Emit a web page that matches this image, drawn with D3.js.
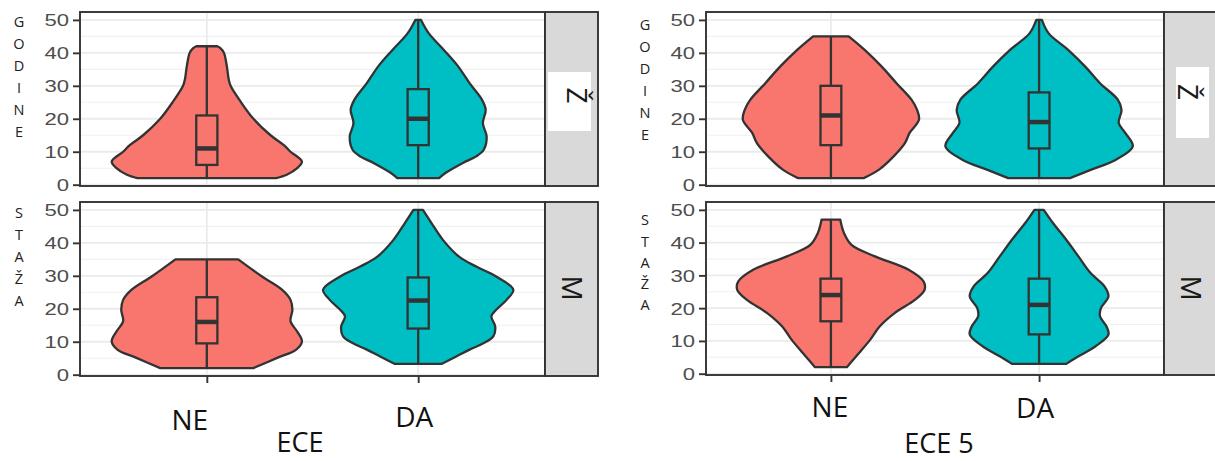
<!DOCTYPE html>
<html>
<head>
<meta charset="utf-8">
<script src="https://cdn.jsdelivr.net/npm/d3@7"></script>
<style>
  html, body { margin: 0; padding: 0; background: #ffffff; }
  svg { display: block; }
</style>
</head>
<body>
<svg id="chart" width="1215" height="461"></svg>
<script>
// ---- categories, facets, ticks ----
const categories = ["NE", "DA"];
const facets = ["Ž", "M"];
const yTicks = [0, 10, 20, 30, 40, 50];
const yMinor = [5, 15, 25, 35, 45];
const yTitleTop = ["G", "O", "D", "I", "N", "E"];
const yTitleBottom = ["S", "T", "A", "Ž", "A"];

// ---- violin densities: [value, relative half-width] ----
// ECE, facet Ž
const eceZ_NE_density = [[2,.73],[3,.84],[5,.95],[7,1.0],[10,.88],[12,.81],[15,.67],[20,.49],[25,.36],[30,.25],[32,.23],[36,.21],[40,.18],[41.5,.14],[42,.11]];
const eceZ_DA_density = [[2,.22],[3.6,.29],[6.6,.47],[8.6,.61],[10.6,.69],[14.6,.72],[18.7,.68],[22.7,.71],[25.8,.67],[30.8,.54],[35.9,.42],[40.9,.27],[46,.11],[50,.03]];
// ECE, facet M
const eceM_NE_density = [[2,.49],[5.1,.74],[7.6,.94],[10.1,1.0],[13.1,.95],[16.2,.88],[19.7,.9],[22.7,.88],[25.8,.79],[29.8,.58],[35,.33]];
const eceM_DA_density = [[3.3,.25],[5.5,.40],[7.6,.54],[9.6,.69],[11.6,.79],[14.6,.81],[17.7,.77],[19.7,.82],[22.7,.93],[25.8,1.0],[29.8,.82],[32.8,.61],[35.8,.43],[40.9,.26],[46,.14],[50,.05]];
// ECE 5, facet Ž
const ece5Z_NE_density = [[2,.35],[4.5,.51],[8.6,.67],[12.6,.79],[15.7,.84],[19.7,.94],[22.7,.92],[25.8,.86],[30.8,.70],[35.9,.54],[40.9,.36],[45,.19]];
const ece5Z_DA_density = [[2,.33],[4.5,.55],[7.6,.82],[11.6,1.0],[15.7,.92],[18.7,.85],[22.7,.88],[25.8,.84],[30.8,.65],[35.9,.49],[40.9,.31],[46,.10],[50,.03]];
// ECE 5, facet M
const ece5M_NE_density = [[2,.17],[6.3,.30],[10.4,.42],[14.4,.52],[18.5,.68],[22.6,.90],[25.6,1.0],[28.1,.99],[31.7,.83],[35.8,.47],[39.3,.22],[42.9,.14],[47,.10]];
const ece5M_DA_density = [[3,.29],[5.3,.42],[8.3,.60],[11.9,.74],[14.4,.72],[17.5,.65],[20,.66],[23.6,.74],[26.6,.70],[30.7,.55],[35.8,.42],[40.9,.29],[45.9,.15],[50,.05]];

// ---- box statistics: [min, q1, median, q3, max] ----
const eceZ_NE_box = [2, 6, 11, 21, 42];
const eceZ_DA_box = [2, 12, 20, 29, 50];
const eceM_NE_box = [2, 9.5, 16, 23.5, 35];
const eceM_DA_box = [3, 14, 22.5, 29.5, 50];
const ece5Z_NE_box = [2, 12, 21, 30, 45];
const ece5Z_DA_box = [2, 11, 19, 28, 50];
const ece5M_NE_box = [2, 16, 24, 29, 47];
const ece5M_DA_box = [3, 12, 21, 29, 50];

const fills = { NE: "#F8766D", DA: "#00BFC4" };
const ink = "#333333";
const lineW = 2.3;

// ---- layout of the two plots ----
const plots = [
  {
    title: "ECE", x0: 80, x1: 545, stripR: 598,
    rows: [{ top: 12, bottom: 186 }, { top: 202, bottom: 376 }],
    series: [
      { NE: [eceZ_NE_density, eceZ_NE_box], DA: [eceZ_DA_density, eceZ_DA_box] },
      { NE: [eceM_NE_density, eceM_NE_box], DA: [eceM_DA_density, eceM_DA_box] }
    ],
    yTitleX: 19, yTitleStart: [21.7, 212.5], yTitleStep: [22, 22.1],
    stripLabel: [[576.7, 95.5], [571.7, 288]],
    plate: { x: 548, y: 72, w: 43, h: 59 },
    catLabel: { NE: [-17, 430], DA: [-4, 427] },
    titlePos: [300, 452]
  },
  {
    title: "ECE 5", x0: 706, x1: 1164, stripR: 1225,
    rows: [{ top: 12, bottom: 186 }, { top: 202, bottom: 375 }],
    series: [
      { NE: [ece5Z_NE_density, ece5Z_NE_box], DA: [ece5Z_DA_density, ece5Z_DA_box] },
      { NE: [ece5M_NE_density, ece5M_NE_box], DA: [ece5M_DA_density, ece5M_DA_box] }
    ],
    yTitleX: 645, yTitleStart: [25, 220], yTitleStep: [22, 21.3],
    stripLabel: [[1188.3, 92], [1190.8, 288]],
    plate: { x: 1176, y: 67, w: 33, h: 71 },
    catLabel: { NE: [-1, 417], DA: [-4, 418] },
    titlePos: [939, 453]
  }
];

const svg = d3.select("#chart");

plots.forEach(p => {
  const g = svg.append("g");
  const x = d3.scalePoint().domain(categories).range([p.x0, p.x1]).padding(0.6);
  const step = x.step();
  const halfW = d3.scaleLinear().domain([0, 1]).range([0, 0.45 * step]);
  const boxW = 0.1 * step;

  p.rows.forEach((row, ri) => {
    const y = d3.scaleLinear().domain([-0.4, 52.4]).range([row.bottom, row.top]);
    const panel = g.append("g");

    // panel background
    panel.append("rect")
      .attr("x", p.x0).attr("y", row.top)
      .attr("width", p.x1 - p.x0).attr("height", row.bottom - row.top)
      .attr("fill", "#ffffff");

    // grid
    panel.selectAll(".minor").data(yMinor).join("line")
      .attr("x1", p.x0).attr("x2", p.x1)
      .attr("y1", d => y(d)).attr("y2", d => y(d))
      .attr("stroke", "#F0F0F0").attr("stroke-width", 1.1);
    panel.selectAll(".major").data(yTicks).join("line")
      .attr("x1", p.x0).attr("x2", p.x1)
      .attr("y1", d => y(d)).attr("y2", d => y(d))
      .attr("stroke", "#EBEBEB").attr("stroke-width", 1.8);
    panel.selectAll(".vmajor").data(categories).join("line")
      .attr("x1", d => x(d)).attr("x2", d => x(d))
      .attr("y1", row.top).attr("y2", row.bottom)
      .attr("stroke", "#EBEBEB").attr("stroke-width", 1.8);

    // violins and boxes
    categories.forEach(cat => {
      const [dens, box] = p.series[ri][cat];
      const cx = x(cat);
      const area = d3.area()
        .curve(d3.curveCatmullRom.alpha(0.5))
        .y(d => y(d[0]))
        .x0(d => cx - halfW(d[1]))
        .x1(d => cx + halfW(d[1]));
      panel.append("path")
        .attr("d", area(dens))
        .attr("fill", fills[cat])
        .attr("stroke", ink).attr("stroke-width", lineW)
        .attr("stroke-linejoin", "round");

      const [mn, q1, md, q3, mx] = box;
      panel.append("line")
        .attr("x1", cx).attr("x2", cx).attr("y1", y(mx)).attr("y2", y(q3))
        .attr("stroke", ink).attr("stroke-width", lineW);
      panel.append("line")
        .attr("x1", cx).attr("x2", cx).attr("y1", y(q1)).attr("y2", y(mn))
        .attr("stroke", ink).attr("stroke-width", lineW);
      panel.append("rect")
        .attr("x", cx - boxW / 2).attr("y", y(q3))
        .attr("width", boxW).attr("height", y(q1) - y(q3))
        .attr("fill", fills[cat])
        .attr("stroke", ink).attr("stroke-width", lineW);
      panel.append("line")
        .attr("x1", cx - boxW / 2).attr("x2", cx + boxW / 2)
        .attr("y1", y(md)).attr("y2", y(md))
        .attr("stroke", ink).attr("stroke-width", 4.5);
    });

    // panel border
    panel.append("rect")
      .attr("x", p.x0).attr("y", row.top)
      .attr("width", p.x1 - p.x0).attr("height", row.bottom - row.top)
      .attr("fill", "none").attr("stroke", ink).attr("stroke-width", 1.9);

    // strip
    panel.append("rect")
      .attr("x", p.x1).attr("y", row.top)
      .attr("width", p.stripR - p.x1).attr("height", row.bottom - row.top)
      .attr("fill", "#D9D9D9").attr("stroke", ink).attr("stroke-width", 1.9);
    if (ri === 0) {
      panel.append("rect")
        .attr("x", p.plate.x).attr("y", p.plate.y)
        .attr("width", p.plate.w).attr("height", p.plate.h)
        .attr("fill", "#ffffff");
    }
    const [sx, sy] = p.stripLabel[ri];
    panel.append("text")
      .attr("transform", `translate(${sx},${sy}) rotate(90)`)
      .attr("text-anchor", "middle").attr("dy", "0.36em")
      .attr("font-family", "Open Sans").attr("font-size", 28)
      .attr("fill", "#1a1a1a")
      .text(facets[ri]);

    // y axis
    const yAxis = panel.append("g")
      .attr("transform", `translate(${p.x0},0)`)
      .call(d3.axisLeft(y).tickValues(yTicks).tickSize(7).tickPadding(4));
    yAxis.select(".domain").remove();
    yAxis.selectAll(".tick line").attr("stroke", ink).attr("stroke-width", 1.9);
    yAxis.selectAll(".tick text")
      .attr("x", null).attr("dy", null)
      .attr("transform", "translate(-11,6) scale(1.3,1)")
      .attr("font-family", "Liberation Sans").attr("font-size", 17)
      .attr("fill", "#4D4D4D");

    // stacked y title letters
    const letters = ri === 0 ? yTitleTop : yTitleBottom;
    panel.selectAll(".ylab").data(letters).join("text")
      .attr("x", p.yTitleX)
      .attr("y", (d, i) => p.yTitleStart[ri] + i * p.yTitleStep[ri])
      .attr("dy", "0.36em")
      .attr("text-anchor", "middle")
      .attr("font-family", "Open Sans").attr("font-size", 14.5)
      .attr("fill", "#222222")
      .text(d => d);

    // x axis ticks on the bottom row
    if (ri === p.rows.length - 1) {
      const xAxis = panel.append("g")
        .attr("transform", `translate(0,${row.bottom})`)
        .call(d3.axisBottom(x).tickSize(7).tickFormat(""));
      xAxis.select(".domain").remove();
      xAxis.selectAll(".tick line").attr("stroke", ink).attr("stroke-width", 1.9);

      g.selectAll(".xlab").data(categories).join("text")
        .attr("x", d => x(d) + p.catLabel[d][0])
        .attr("y", d => p.catLabel[d][1])
        .attr("text-anchor", "middle")
        .attr("font-family", "Open Sans").attr("font-size", 28)
        .attr("fill", "#111111")
        .text(d => d);
    }
  });

  // axis title
  g.append("text")
    .attr("x", p.titlePos[0]).attr("y", p.titlePos[1])
    .attr("text-anchor", "middle")
    .attr("font-family", "Open Sans").attr("font-size", 27)
    .attr("fill", "#111111")
    .text(p.title);
});
</script>
</body>
</html>
